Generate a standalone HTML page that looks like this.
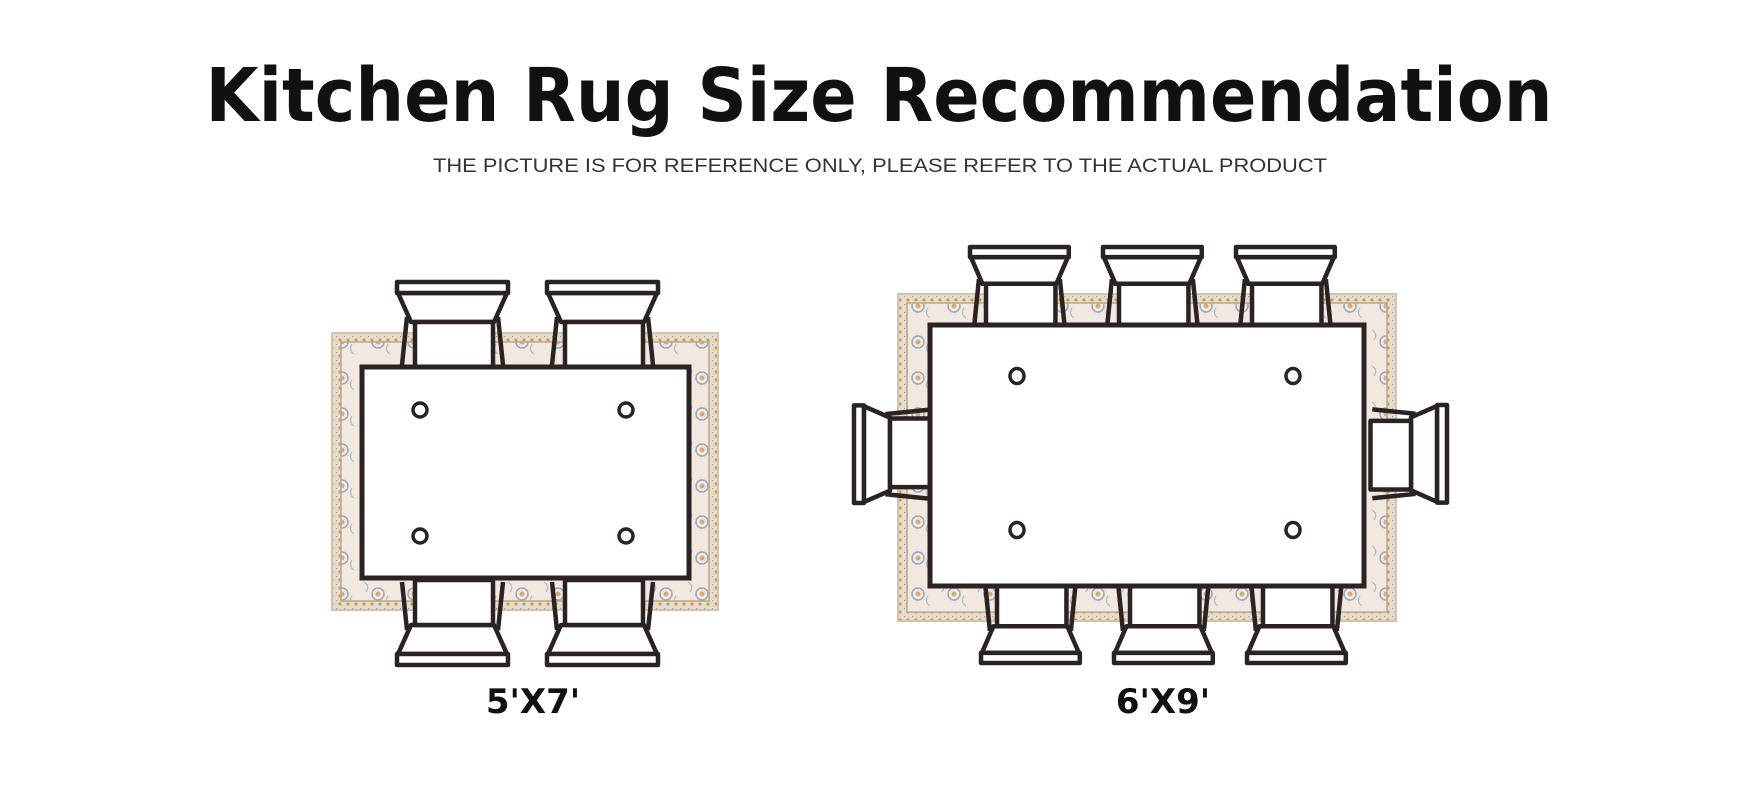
<!DOCTYPE html>
<html><head><meta charset="utf-8"><style>html,body{margin:0;padding:0;background:#fff}svg{display:block}</style></head>
<body>
<svg width="1760" height="800" viewBox="0 0 1760 800" xmlns="http://www.w3.org/2000/svg">
<defs>
<g id="chair" stroke="#2b2323" stroke-width="4.5" stroke-linejoin="round" fill="#fff">
  <path d="M10,35 L5,83 M101,35 L106,83" fill="none" vector-effect="non-scaling-stroke"/>
  <path d="M1,11 L110,11 L97,40 L14,40 Z" vector-effect="non-scaling-stroke"/>
  <rect x="18" y="40" width="78" height="45" vector-effect="non-scaling-stroke"/>
  <rect x="0" y="0" width="111" height="11" vector-effect="non-scaling-stroke"/>
</g>
<pattern id="bd" width="8" height="8" patternUnits="userSpaceOnUse">
  <rect width="8" height="8" fill="#e6dccd"/><circle cx="4" cy="4" r="1.6" fill="#d49a4a"/><circle cx="0" cy="0" r="1.2" fill="#8a94a8"/>
</pattern>
<pattern id="fl" width="36" height="36" patternUnits="userSpaceOnUse">
  <rect width="36" height="36" fill="#f1e9df"/><circle cx="18" cy="18" r="6" fill="none" stroke="#9aa6bd" stroke-width="1.5"/><circle cx="18" cy="18" r="2.5" fill="#d9a77a"/><path d="M4,6 q6,4 2,10 M30,30 q-6,-4 -2,-10" stroke="#b3bccc" stroke-width="1.3" fill="none"/>
</pattern>
</defs>

<text x="879" y="121" text-anchor="middle" font-family="'DejaVu Sans','Liberation Sans',sans-serif" font-weight="bold" font-size="74" textLength="1347" lengthAdjust="spacingAndGlyphs" fill="#111">Kitchen Rug Size Recommendation</text>
<text x="880" y="172" text-anchor="middle" font-family="'Liberation Sans',sans-serif" font-size="19" textLength="894" lengthAdjust="spacingAndGlyphs" fill="#333">THE PICTURE IS FOR REFERENCE ONLY, PLEASE REFER TO THE ACTUAL PRODUCT</text>

<!-- Rug 1 -->
<rect x="332" y="333" width="386" height="277" fill="url(#bd)" stroke="#cfc6b2" stroke-width="2"/>
<rect x="341" y="342" width="368" height="259" fill="url(#fl)" stroke="#b9a88e" stroke-width="1.5"/>
<use href="#chair" transform="translate(397,282)"/>
<use href="#chair" transform="translate(547,282)"/>
<use href="#chair" transform="translate(397,665) scale(1,-1)"/>
<use href="#chair" transform="translate(547,665) scale(1,-1)"/>
<rect x="362" y="367" width="327" height="211" fill="#fff" stroke="#2b2323" stroke-width="5"/>
<g fill="none" stroke="#2b2323" stroke-width="3.5">
<circle cx="420" cy="410" r="7"/><circle cx="626" cy="410" r="7"/><circle cx="420" cy="536" r="7"/><circle cx="626" cy="536" r="7"/>
</g>
<text x="533" y="713" text-anchor="middle" font-family="'DejaVu Sans','Liberation Sans',sans-serif" font-weight="bold" font-size="34" fill="#111">5'X7'</text>

<!-- Rug 2 -->
<rect x="898" y="294" width="498" height="327" fill="url(#bd)" stroke="#cfc6b2" stroke-width="2"/>
<rect x="907" y="303" width="480" height="309" fill="url(#fl)" stroke="#b9a88e" stroke-width="1.5"/>
<use href="#chair" transform="translate(970,247) scale(0.89,0.92)"/>
<use href="#chair" transform="translate(1103,247) scale(0.89,0.92)"/>
<use href="#chair" transform="translate(1236,247) scale(0.89,0.92)"/>
<use href="#chair" transform="translate(981,663) scale(0.89,-0.92)"/>
<use href="#chair" transform="translate(1114,663) scale(0.89,-0.92)"/>
<use href="#chair" transform="translate(1247,663) scale(0.89,-0.92)"/>
<use href="#chair" transform="translate(854,503) rotate(-90) scale(0.88,0.9)"/>
<use href="#chair" transform="translate(1447,405) rotate(90) scale(0.88,0.9)"/>
<rect x="930" y="325" width="434" height="261" fill="#fff" stroke="#2b2323" stroke-width="5"/>
<g fill="none" stroke="#2b2323" stroke-width="3.5">
<ellipse cx="1017" cy="376" rx="7" ry="7.5"/><ellipse cx="1293" cy="376" rx="7" ry="7.5"/><ellipse cx="1017" cy="530" rx="7" ry="7.5"/><ellipse cx="1293" cy="530" rx="7" ry="7.5"/>
</g>
<text x="1163" y="713" text-anchor="middle" font-family="'DejaVu Sans','Liberation Sans',sans-serif" font-weight="bold" font-size="34" fill="#111">6'X9'</text>
</svg>
</body></html>
